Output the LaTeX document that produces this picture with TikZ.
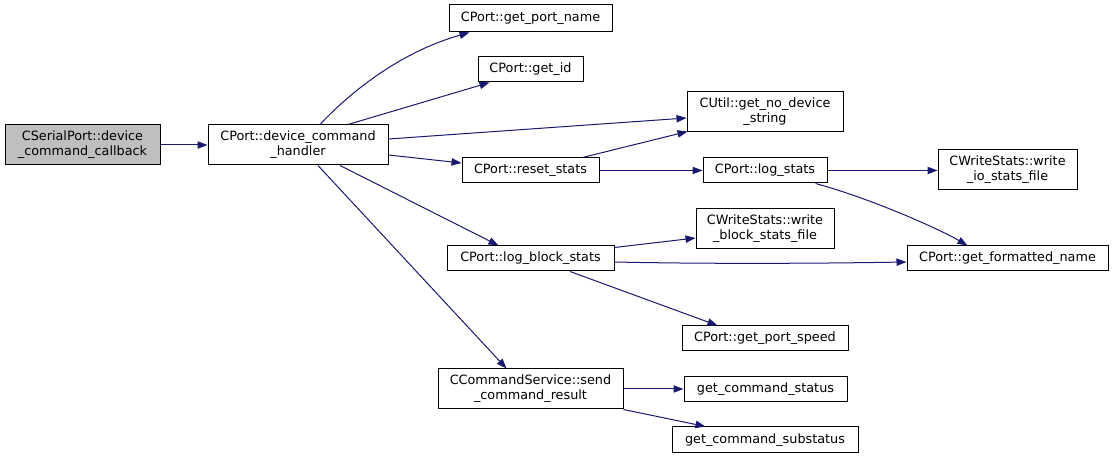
\documentclass[tikz,border=0pt]{standalone}
\usepackage{fontspec}
\setmainfont{DejaVu Sans}
\usetikzlibrary{arrows.meta,calc}
\definecolor{edgecol}{HTML}{191970}
\definecolor{rootfill}{HTML}{BFBFBF}
\begin{document}
\begin{tikzpicture}[x=0.75pt,y=-0.75pt,
  box/.style={draw=black,line width=0.75pt,fill=white,inner sep=0pt,align=center,
    font=\fontsize{9.6pt}{11.25pt}\selectfont},
  edge/.style={draw=edgecol,line width=0.75pt,-{Triangle[length=7.5pt,width=5.5pt]}}]
\useasboundingbox (0,0) rectangle (1115,459);
\fill[white] (0,0) rectangle (1115,459);
\node[box,fill=rootfill,minimum width=155*0.75pt,minimum height=40*0.75pt] (serial) at (82.5,145) {CSerialPort::device\\\_command\_callback};
\node[box,minimum width=180*0.75pt,minimum height=40*0.75pt] (handler) at (298,145) {CPort::device\_command\\\_handler};
\node[box,minimum width=163*0.75pt,minimum height=27*0.75pt] (portname) at (530.5,18.5) {CPort::get\_port\_name};
\node[box,minimum width=105*0.75pt,minimum height=25*0.75pt] (getid) at (530.5,69.5) {CPort::get\_id};
\node[box,minimum width=156*0.75pt,minimum height=40*0.75pt] (nodev) at (765,112) {CUtil::get\_no\_device\\\_string};
\node[box,minimum width=137*0.75pt,minimum height=25*0.75pt] (reset) at (530.5,170.5) {CPort::reset\_stats};
\node[box,minimum width=124*0.75pt,minimum height=25*0.75pt] (logstats) at (765,170.5) {CPort::log\_stats};
\node[box,minimum width=139*0.75pt,minimum height=40*0.75pt] (wio) at (1007.5,170) {CWriteStats::write\\\_io\_stats\_file};
\node[box,minimum width=138*0.75pt,minimum height=40*0.75pt] (wblock) at (765,229) {CWriteStats::write\\\_block\_stats\_file};
\node[box,minimum width=167*0.75pt,minimum height=25*0.75pt] (logblock) at (530.5,258.5) {CPort::log\_block\_stats};
\node[box,minimum width=201*0.75pt,minimum height=25*0.75pt] (fmt) at (1007.5,258.5) {CPort::get\_formatted\_name};
\node[box,minimum width=166*0.75pt,minimum height=25*0.75pt] (speed) at (765,338.5) {CPort::get\_port\_speed};
\node[box,minimum width=185*0.75pt,minimum height=40*0.75pt] (send) at (530.5,389) {CCommandService::send\\\_command\_result};
\node[box,minimum width=163*0.75pt,minimum height=25*0.75pt] (status) at (765.5,389.5) {get\_command\_status};
\node[box,minimum width=186*0.75pt,minimum height=26*0.75pt] (substatus) at (765,440) {get\_command\_substatus};

\draw[edge] (serial.east) -- (handler.west);
\draw[edge] ($(handler.north)+(22,0)$) .. controls ($(handler.north)+(50,-30)$) and ($(portname.south west)+(-50,20)$) .. ($(portname.south west)+(21,0)$);
\draw[edge] ($(handler.north)+(50,0)$) -- ($(getid.south west)+(12,0)$);
\draw[edge] ($(handler.east)+(0,-6)$) -- ($(nodev.west)+(0,6)$);
\draw[edge] ($(handler.east)+(0,10)$) -- ($(reset.west)+(0,-7.5)$);
\draw[edge] ($(handler.south)+(42,0)$) -- ($(logblock.north west)+(52,0)$);
\draw[edge] ($(handler.south)+(20,0)$) -- ($(send.north west)+(69,0)$);
\draw[edge] ($(reset.north east)+(-17,0)$) -- ($(nodev.south west)+(1,-1)$);
\draw[edge] (reset.east) -- (logstats.west);
\draw[edge] (logstats.east) -- (wio.west |- logstats.east);
\draw[edge] ($(logstats.south east)+(-12,0)$) .. controls ($(logstats.south east)+(40,14)$) and ($(fmt.north west)+(30,-18)$) .. ($(fmt.north west)+(61,0)$);
\draw[edge] ($(logblock.north east)+(0,2)$) -- ($(wblock.west)+(0,9)$);
\draw[edge] ($(logblock.east)+(0,3.5)$) .. controls ($(logblock.east)+(90,5.5)$) and ($(fmt.west)+(-90,5)$) .. ($(fmt.west)+(0,3.5)$);
\draw[edge] ($(logblock.south)+(39.5,0)$) -- ($(speed.north west)+(36,0)$);
\draw[edge] (send.east) -- (status.west |- send.east);
\draw[edge] (send.south east) -- ($(substatus.north west)+(34,0)$);
\end{tikzpicture}
\end{document}
